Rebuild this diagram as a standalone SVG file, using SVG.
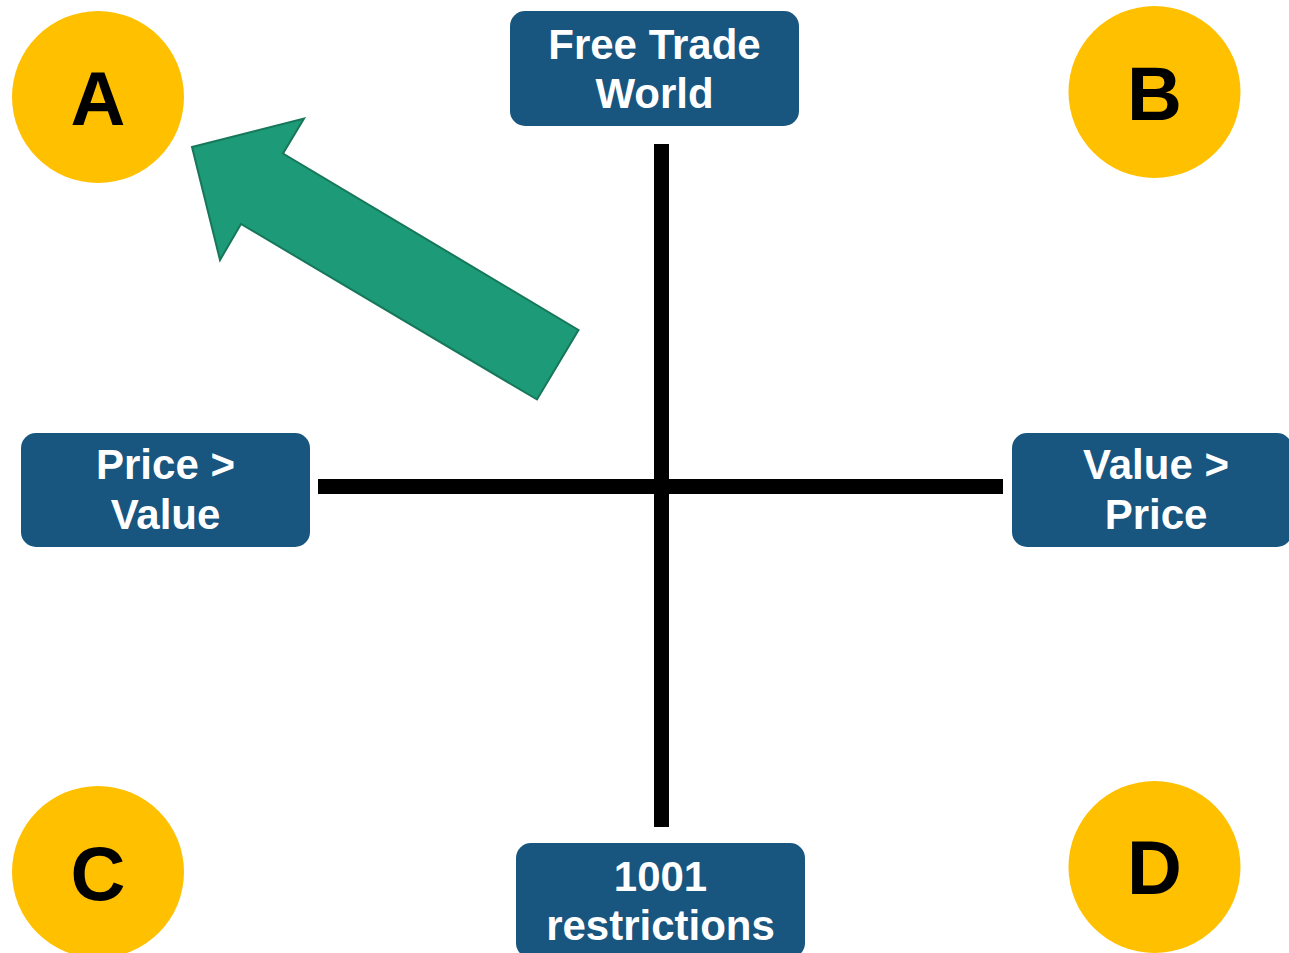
<svg xmlns="http://www.w3.org/2000/svg" width="1289" height="953" viewBox="0 0 1289 953">
  <style>
    .quad circle { fill: #FFC000; }
    .quad text { font-family: "Liberation Sans", Arial, sans-serif; font-weight: bold; font-size: 76px; fill: #000; text-anchor: middle; }
    .axis-label rect { fill: #18557F; }
    .axis-label text { font-family: "Liberation Sans", Arial, sans-serif; font-weight: bold; font-size: 42px; fill: #fff; text-anchor: middle; }
    .axis { fill: #000; }
  </style>
  <rect width="1289" height="953" fill="#fff"/>

  <!-- axes -->
  <g id="connectors">
    <rect class="axis" x="654" y="144" width="15" height="683"/>
    <rect class="axis" x="318" y="479" width="685" height="15"/>
  </g>

  <!-- quadrant markers -->
  <g id="quad-a" class="quad">
    <circle cx="98" cy="97" r="86"/>
    <text x="98" y="125">A</text>
  </g>
  <g id="quad-b" class="quad">
    <circle cx="1154.5" cy="92" r="86"/>
    <text x="1154.5" y="120">B</text>
  </g>
  <g id="quad-c" class="quad">
    <circle cx="98" cy="872" r="86"/>
    <text x="98" y="900">C</text>
  </g>
  <g id="quad-d" class="quad">
    <circle cx="1154.5" cy="867" r="86"/>
    <text x="1154.5" y="894">D</text>
  </g>

  <!-- axis end labels -->
  <g id="label-top" class="axis-label">
    <rect x="510" y="11" width="289" height="115" rx="15"/>
    <text x="654.5" y="59">Free Trade</text>
    <text x="654.5" y="108">World</text>
  </g>
  <g id="label-left" class="axis-label">
    <rect x="21" y="433" width="289" height="114" rx="15"/>
    <text x="165.5" y="479">Price &gt;</text>
    <text x="165.5" y="529">Value</text>
  </g>
  <g id="label-right" class="axis-label">
    <rect x="1012" y="433" width="280" height="114" rx="15"/>
    <text x="1156" y="479">Value &gt;</text>
    <text x="1156" y="529">Price</text>
  </g>
  <g id="label-bottom" class="axis-label">
    <rect x="516" y="843" width="289" height="115" rx="15"/>
    <text x="660.5" y="891">1001</text>
    <text x="660.5" y="940">restrictions</text>
  </g>

  <!-- block arrow toward quadrant A -->
  <g id="arrow-to-a">
    <polygon points="192,147 304,118.5 283,153.5 578.5,330 537,399.5 241,224 220,260"
             fill="#1D9A77" stroke="#17775A" stroke-width="2" stroke-linejoin="miter"/>
  </g>
</svg>
